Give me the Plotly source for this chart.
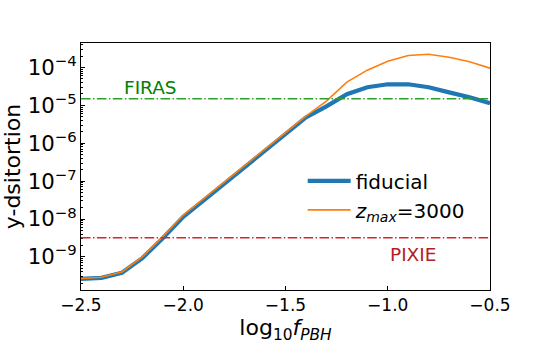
import plotly.graph_objects as go
import numpy as np

log10_fpbh = [-2.5, -2.4, -2.3, -2.2, -2.1, -2.0, -1.9, -1.8, -1.7, -1.6, -1.5,
              -1.4, -1.3, -1.2, -1.1, -1.0, -0.9, -0.8, -0.7, -0.6, -0.5]
y_fiducial = [2.64e-10, 2.8e-10, 3.8e-10, 9.3e-10, 3.1e-9, 1.14e-8, 3.1e-8, 8.4e-8,
              2.3e-7, 6.3e-7, 1.74e-6, 4.8e-6, 9.4e-6, 1.97e-5, 3.0e-5, 3.6e-5,
              3.6e-5, 3.0e-5, 2.2e-5, 1.64e-5, 1.14e-5]
y_zmax3000 = [2.7e-10, 2.9e-10, 4.0e-10, 1.0e-9, 3.4e-9, 1.27e-8, 3.45e-8, 9.3e-8,
              2.55e-7, 7.0e-7, 1.9e-6, 5.2e-6, 1.3e-5, 4.1e-5, 8.5e-5, 1.46e-4,
              2.07e-4, 2.24e-4, 1.87e-4, 1.42e-4, 9.6e-5]
FIRAS_LIMIT = 1.5e-5
PIXIE_LIMIT = 3.2e-9

font = "DejaVu Sans"
fig = go.Figure()
fig.add_trace(go.Scatter(x=log10_fpbh, y=y_fiducial, mode="lines",
                         line=dict(color="#1f77b4", width=4.2), name="fiducial"))
fig.add_trace(go.Scatter(x=log10_fpbh, y=y_zmax3000, mode="lines",
                         line=dict(color="#ff7f0e", width=1.6),
                         name="<i>z</i><sub><i>max</i></sub>=3000"))

dash = "9.6px,2.4px,1.5px,2.4px"
fig.add_hline(y=FIRAS_LIMIT, line=dict(color="#2ca02c", width=1.5, dash=dash))
fig.add_hline(y=PIXIE_LIMIT, line=dict(color="#d62728", width=1.5, dash=dash))

fig.add_annotation(x=-2.3, y=np.log10(FIRAS_LIMIT) + 0.29, text="FIRAS", showarrow=False,
                   xanchor="left", yanchor="middle",
                   font=dict(family=font, size=18.5, color="green"))
fig.add_annotation(x=-1.0, y=np.log10(PIXIE_LIMIT) - 0.44, text="PIXIE", showarrow=False,
                   xanchor="left", yanchor="middle",
                   font=dict(family=font, size=18.5, color="#b22222"))

fig.update_layout(
    width=545, height=363,
    margin=dict(l=81, r=55, t=43, b=73),
    paper_bgcolor="white", plot_bgcolor="white",
    font=dict(family=font, size=17, color="black"),
    showlegend=True,
    legend=dict(x=0.542, y=0.383, xanchor="left", yanchor="middle",
                bgcolor="rgba(0,0,0,0)", font=dict(size=20), itemwidth=43),
)
fig.update_xaxes(
    range=[-2.5, -0.5], dtick=0.5, tick0=-2.5, tickformat=".1f",
    showline=True, linecolor="black", linewidth=1, mirror=True, automargin=False,
    ticks="inside", ticklen=4, tickcolor="black", showgrid=False, zeroline=False,
    title=dict(text="log<sub>10</sub><i>f</i><sub><i>PBH</i></sub>", font=dict(size=22), standoff=0),
)
fig.update_yaxes(
    type="log", range=[-9.874, -3.354], dtick=1, exponentformat="power",
    showline=True, linecolor="black", linewidth=1, mirror=True, automargin=False,
    ticks="inside", ticklen=4, tickcolor="black", showgrid=False, zeroline=False,
    minor=dict(ticks="inside", ticklen=2, tickcolor="black", showgrid=False),
    title=dict(text="y-dsitortion", font=dict(size=22), standoff=0),
)
fig.write_html("out.html", config={"displayModeBar": False},
               post_script="document.body.style.margin='0';")
